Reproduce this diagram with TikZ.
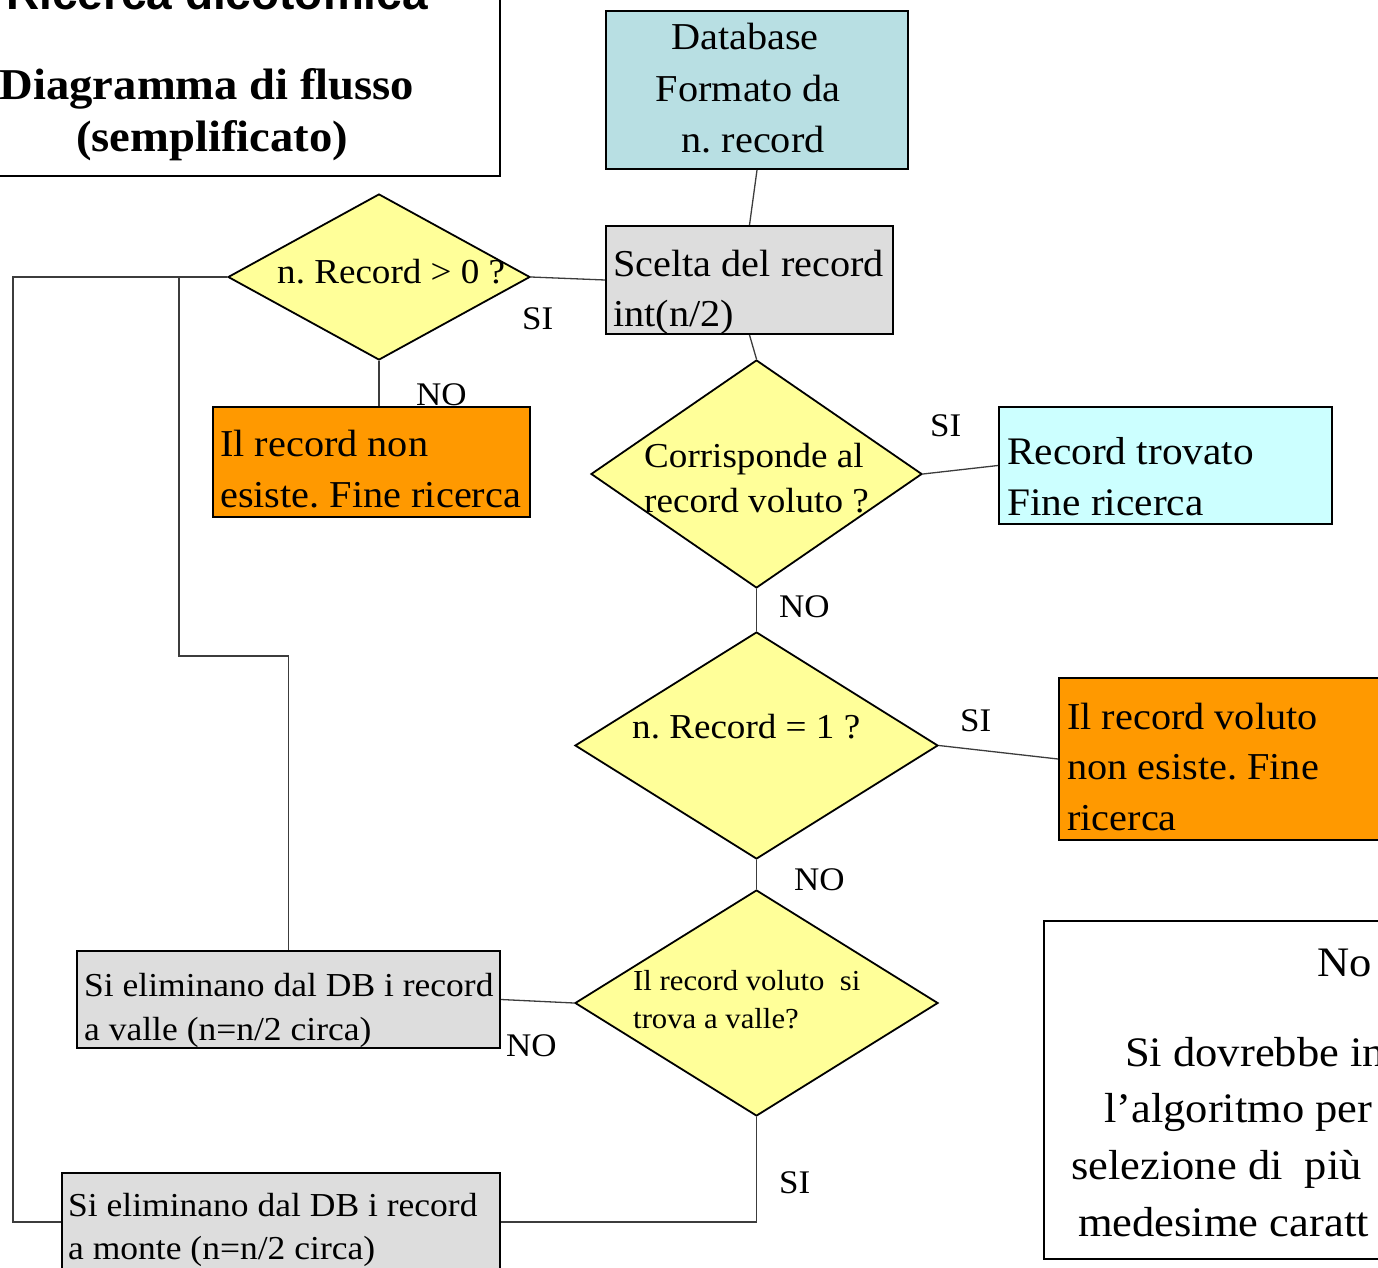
\documentclass[tikz,border=0pt]{standalone}
\usepackage{fontspec}
\setmainfont{Liberation Serif}[FakeStretch=1.06]
\newfontfamily\headsans{Liberation Sans}
\usetikzlibrary{shapes.geometric}
\definecolor{dbteal}{RGB}{184,223,227}
\definecolor{boxgray}{RGB}{221,221,221}
\definecolor{decyellow}{RGB}{255,255,153}
\definecolor{warnorange}{RGB}{255,153,0}
\definecolor{foundcyan}{RGB}{204,255,255}
\definecolor{wiregray}{RGB}{60,60,60}
\newcommand{\fs}[1]{\fontsize{#1}{#1}\selectfont}
\frenchspacing
\begin{document}
\begin{tikzpicture}[x=1pt,y=-1pt,
  box/.style={draw=black, line width=2pt, rectangle, inner sep=0pt, anchor=north west},
  dec/.style={draw=black, line width=1.8pt, diamond, inner sep=0pt, fill=decyellow},
  wire/.style={draw=wiregray, line width=1.3pt},
  txt/.style={inner sep=0pt, anchor=base west, font=\fs{38}},
  ctxt/.style={inner sep=0pt, anchor=base, font=\fs{38}},
  lbl/.style={inner sep=0pt, anchor=base west, font=\fs{33}}]
\useasboundingbox (0,0) rectangle (1378,1268);
\clip (0,0) rectangle (1378,1268);

% title panel
\node[box, minimum width=504pt, minimum height=180pt] (title) at (-5,-5) {};
\node[inner sep=0pt, anchor=base, font=\headsans\bfseries\fs{46}] (ttl1) at (217,10) {Ricerca dicotomica};
\node[inner sep=0pt, anchor=base, font=\bfseries\fs{44}] (ttl2) at (207,100) {Diagramma di flusso};
\node[inner sep=0pt, anchor=base, font=\bfseries\fs{44}] (ttl3) at (212,152) {(semplificato)};

% process boxes
\node[box, fill=dbteal, minimum width=302pt, minimum height=158pt] (db) at (605,10) {};
\node[box, fill=boxgray, minimum width=287pt, minimum height=108pt] (scelta) at (605,225) {};
\node[box, fill=warnorange, minimum width=317pt, minimum height=110pt] (nonesiste) at (212,406) {};
\node[box, fill=foundcyan, minimum width=333pt, minimum height=117pt] (trovato) at (998,406) {};
\node[box, fill=warnorange, minimum width=330pt, minimum height=162pt] (nonvoluto) at (1058,677) {};
\node[box, fill=boxgray, minimum width=423pt, minimum height=97pt] (valle) at (76,950) {};
\node[box, fill=boxgray, minimum width=438pt, minimum height=98pt] (monte) at (61,1172) {};
\node[box, fill=white, minimum width=350pt, minimum height=338pt] (nota) at (1043,920) {};

% decisions
\node[dec, minimum width=302pt, minimum height=166pt] (d1) at (379,277) {};
\node[dec, minimum width=331pt, minimum height=228pt] (d2) at (756.5,474) {};
\node[dec, minimum width=363pt, minimum height=227pt] (d3) at (756.5,745.5) {};
\node[dec, minimum width=363pt, minimum height=226pt] (d4) at (756.5,1003) {};

% connectors
\draw[wire] (db.south) -- (scelta.north);
\draw[wire] (scelta.south) -- (d2.north);
\draw[wire] (d1.east) -- (scelta.west);
\draw[wire] (d1.south) -- (d1.south |- nonesiste.north);
\draw[wire] (d2.east) -- (trovato.west);
\draw[wire] (d2.south) -- (d3.north);
\draw[wire] (d3.east) -- (nonvoluto.west);
\draw[wire] (d3.south) -- (d4.north);
\draw[wire] (d4.west) -- (valle.east);
\draw[wire] (d4.south) -- (d4.south |- monte.east) -- (monte.east);
\coordinate (loopL) at (13,277);
\coordinate (branch) at (179,277);
\draw[wire] (d1.west) -- (loopL) -- (loopL |- monte.west) -- (monte.west);
\draw[wire] (branch) -- (179,656) -- (valle.north |- 0,656) -- (valle.north);

% box texts
\node[ctxt] (tdb1) at (745,50) {Database};
\node[ctxt] (tdb2) at (748,102) {Formato da};
\node[ctxt] (tdb3) at (753,153) {n. record};
\node[txt] (tsc1) at (613,276) {Scelta del record};
\node[txt] (tsc2) at (613,326) {int(n/2)};
\node[txt] (tne1) at (220,456) {Il record non};
\node[txt] (tne2) at (220,507) {esiste. Fine ricerca};
\node[txt, font=\fs{39}] (ttr1) at (1007,464) {Record trovato};
\node[txt, font=\fs{39}] (ttr2) at (1007,515) {Fine ricerca};
\node[txt] (tnv1) at (1067,729) {Il record voluto};
\node[txt] (tnv2) at (1067,779) {non esiste. Fine};
\node[txt] (tnv3) at (1067,830) {ricerca};
\node[txt, font=\fs{33.5}] (tva1) at (84,996) {Si eliminano dal DB i record};
\node[txt, font=\fs{33.5}] (tva2) at (84,1040) {a valle (n=n/2 circa)};
\node[txt, font=\fs{33.5}] (tmo1) at (68,1216) {Si eliminano dal DB i record};
\node[txt, font=\fs{33.5}] (tmo2) at (68,1259) {a monte (n=n/2 circa)};

% decision texts
\node[txt, font=\fs{35}] (td1) at (277,283) {n. Record > 0 ?};
\node[txt, font=\fs{35}] (td2a) at (644,467) {Corrisponde al};
\node[txt, font=\fs{35}] (td2b) at (644,512) {record voluto ?};
\node[txt, font=\fs{35}] (td3) at (632,738) {n. Record = 1 ?};
\node[txt, font=\fs{29}] (td4a) at (633,990) {Il record voluto\ \ si};
\node[txt, font=\fs{29}] (td4b) at (633,1028) {trova a valle?};

% branch labels
\node[lbl] (l1) at (522,329) {SI};
\node[lbl] (l2) at (416,405) {NO};
\node[lbl] (l3) at (930,436) {SI};
\node[lbl] (l4) at (779,617) {NO};
\node[lbl] (l5) at (960,731) {SI};
\node[lbl] (l6) at (794,890) {NO};
\node[lbl] (l7) at (506,1056) {NO};
\node[lbl] (l8) at (779,1193) {SI};

% note panel
\node[txt, font=\fs{42}] (n1) at (1317,976) {No};
\node[txt, font=\fs{42}] (n2) at (1125,1066) {Si dovrebbe in};
\node[txt, font=\fs{42}] (n3) at (1104,1122) {l’algoritmo per};
\node[txt, font=\fs{42}] (n4) at (1071,1179) {selezione di\ \ più};
\node[txt, font=\fs{42}] (n5) at (1078,1236) {medesime caratt};
\end{tikzpicture}
\end{document}
